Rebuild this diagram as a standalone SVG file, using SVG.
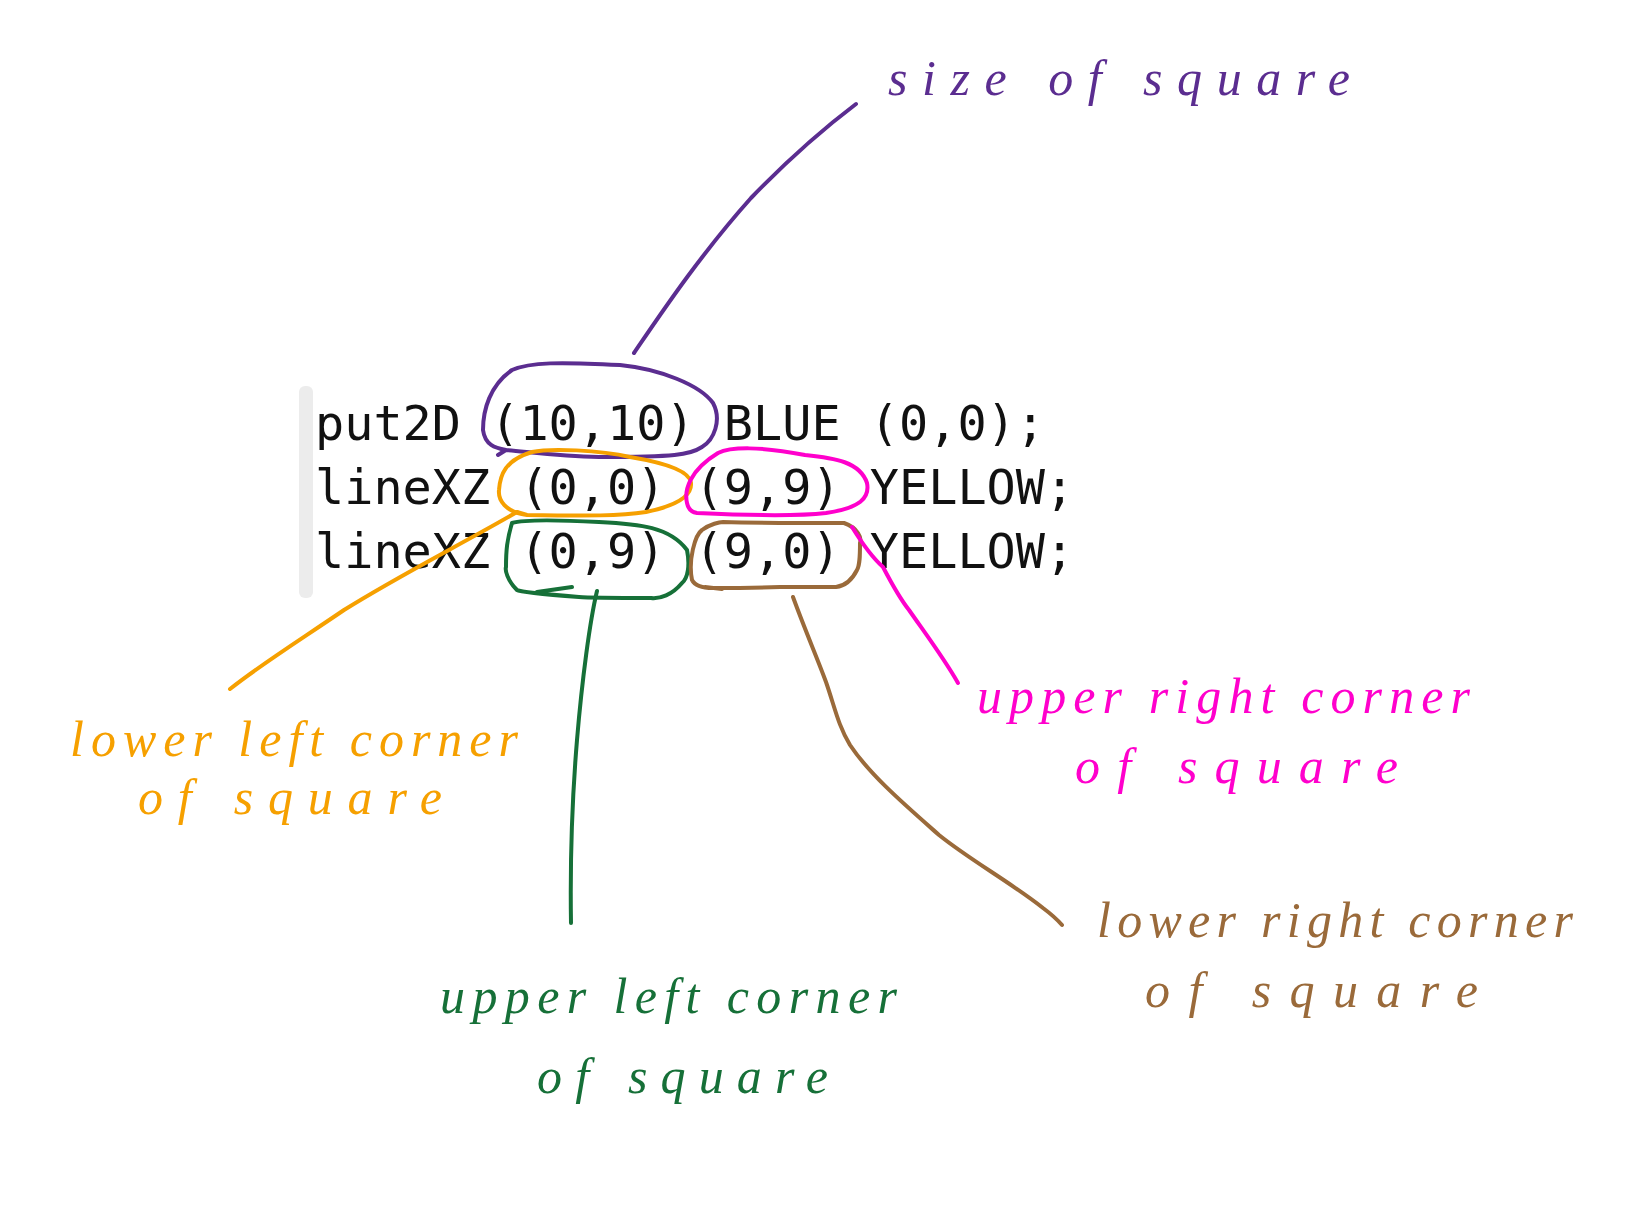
<svg xmlns="http://www.w3.org/2000/svg" width="1636" height="1221" viewBox="0 0 1636 1221">
<style>
.code{font-family:"DejaVu Sans Mono","Liberation Mono",monospace;font-size:48.5px;fill:#111}
.hand{font-family:"Liberation Serif","DejaVu Serif",serif;font-style:italic;font-size:50px}
.ink{fill:none;stroke-width:4;stroke-linecap:round;stroke-linejoin:round}
.purple{stroke:#5b2d90}.orange{stroke:#f6a000}.magenta{stroke:#ff00cc}.green{stroke:#167038}.brown{stroke:#9a6a3a}
</style>
<rect width="1636" height="1221" fill="#fff"/>
<g id="code">
<rect x="299" y="386" width="14" height="212" rx="6" fill="#ececec"/>
<text class="code" x="315" y="440" xml:space="preserve">put2D (10,10) BLUE (0,0);</text>
<text class="code" x="315" y="504" xml:space="preserve">lineXZ (0,0) (9,9) YELLOW;</text>
<text class="code" x="315" y="568" xml:space="preserve">lineXZ (0,9) (9,0) YELLOW;</text>
</g>
<g id="highlights">
<path class="ink purple" d="M506,450 C495,448 485,445 483,430 C483,410 490,385 512,370 C530,362 560,362 620,365 C660,369 700,385 713,403 C722,420 714,440 702,447 C690,455 675,457 599,457 C560,456 530,452 506,450 L498,455"/>
<path class="ink orange" d="M527,515 C505,512 498,500 499,490 C500,475 505,460 532,452 C550,448 600,450 630,457 C660,462 690,470 691,483 C692,495 680,505 646,512 C620,516 590,516 527,515 L517,512"/>
<path class="ink magenta" d="M687,503 C684,490 690,470 718,453 C730,447 760,446 805,455 C835,458 860,462 867,483 C870,498 860,508 826,513 C800,516 760,516 697,513 C690,512 688,508 687,503"/>
<path class="ink green" d="M512,523 C525,519 560,520 599,522 C640,524 670,527 687,550 C690,565 688,578 682,583 C672,595 660,599 651,598 C620,598 590,598 579,597 C540,594 520,592 517,590 C507,580 505,570 506,567 C506,550 507,540 512,523 M537,592 L572,587"/>
<path class="ink brown" d="M692,580 C688,560 695,535 702,530 C710,524 720,522 723,522 C760,523 810,523 844,523 C858,528 862,538 860,543 C860,555 860,565 857,570 C852,580 845,586 836,587 C810,587 790,587 780,587 C750,588 725,588 713,588 C700,588 694,584 692,580 M705,587 L722,589"/>
</g>
<g id="connectors">
<path class="ink purple" d="M634,353 C660,315 700,255 751,198 C780,168 815,135 856,104"/>
<path class="ink orange" d="M517,512 C460,545 400,575 344,610 C300,640 260,665 230,689"/>
<path class="ink magenta" d="M852,527 C865,548 875,560 883,567 C895,590 905,605 909,610 C930,640 945,660 958,683"/>
<path class="ink green" d="M597,591 C590,620 582,680 577,740 C572,800 570,860 571,923"/>
<path class="ink brown" d="M793,597 C805,630 818,660 826,682 C835,708 838,725 850,745 C870,775 905,805 939,835 C970,860 1010,882 1043,908 Q1055,917 1062,925"/>
</g>
<g id="label-size" class="hand" fill="#5b2d90">
<text x="888" y="95" textLength="462" lengthAdjust="spacing">size of square</text>
</g>
<g id="label-lower-left" class="hand" fill="#f6a000">
<text x="70" y="756" textLength="448" lengthAdjust="spacing">lower left corner</text>
<text x="138" y="814" textLength="304" lengthAdjust="spacing">of square</text>
</g>
<g id="label-upper-left" class="hand" fill="#167038">
<text x="440" y="1013" textLength="457" lengthAdjust="spacing">upper left corner</text>
<text x="537" y="1093" textLength="291" lengthAdjust="spacing">of square</text>
</g>
<g id="label-upper-right" class="hand" fill="#ff00cc">
<text x="977" y="713" textLength="493" lengthAdjust="spacing">upper right corner</text>
<text x="1075" y="783" textLength="323" lengthAdjust="spacing">of square</text>
</g>
<g id="label-lower-right" class="hand" fill="#9a6a3a">
<text x="1097" y="937" textLength="476" lengthAdjust="spacing">lower right corner</text>
<text x="1145" y="1007" textLength="333" lengthAdjust="spacing">of square</text>
</g>
</svg>
